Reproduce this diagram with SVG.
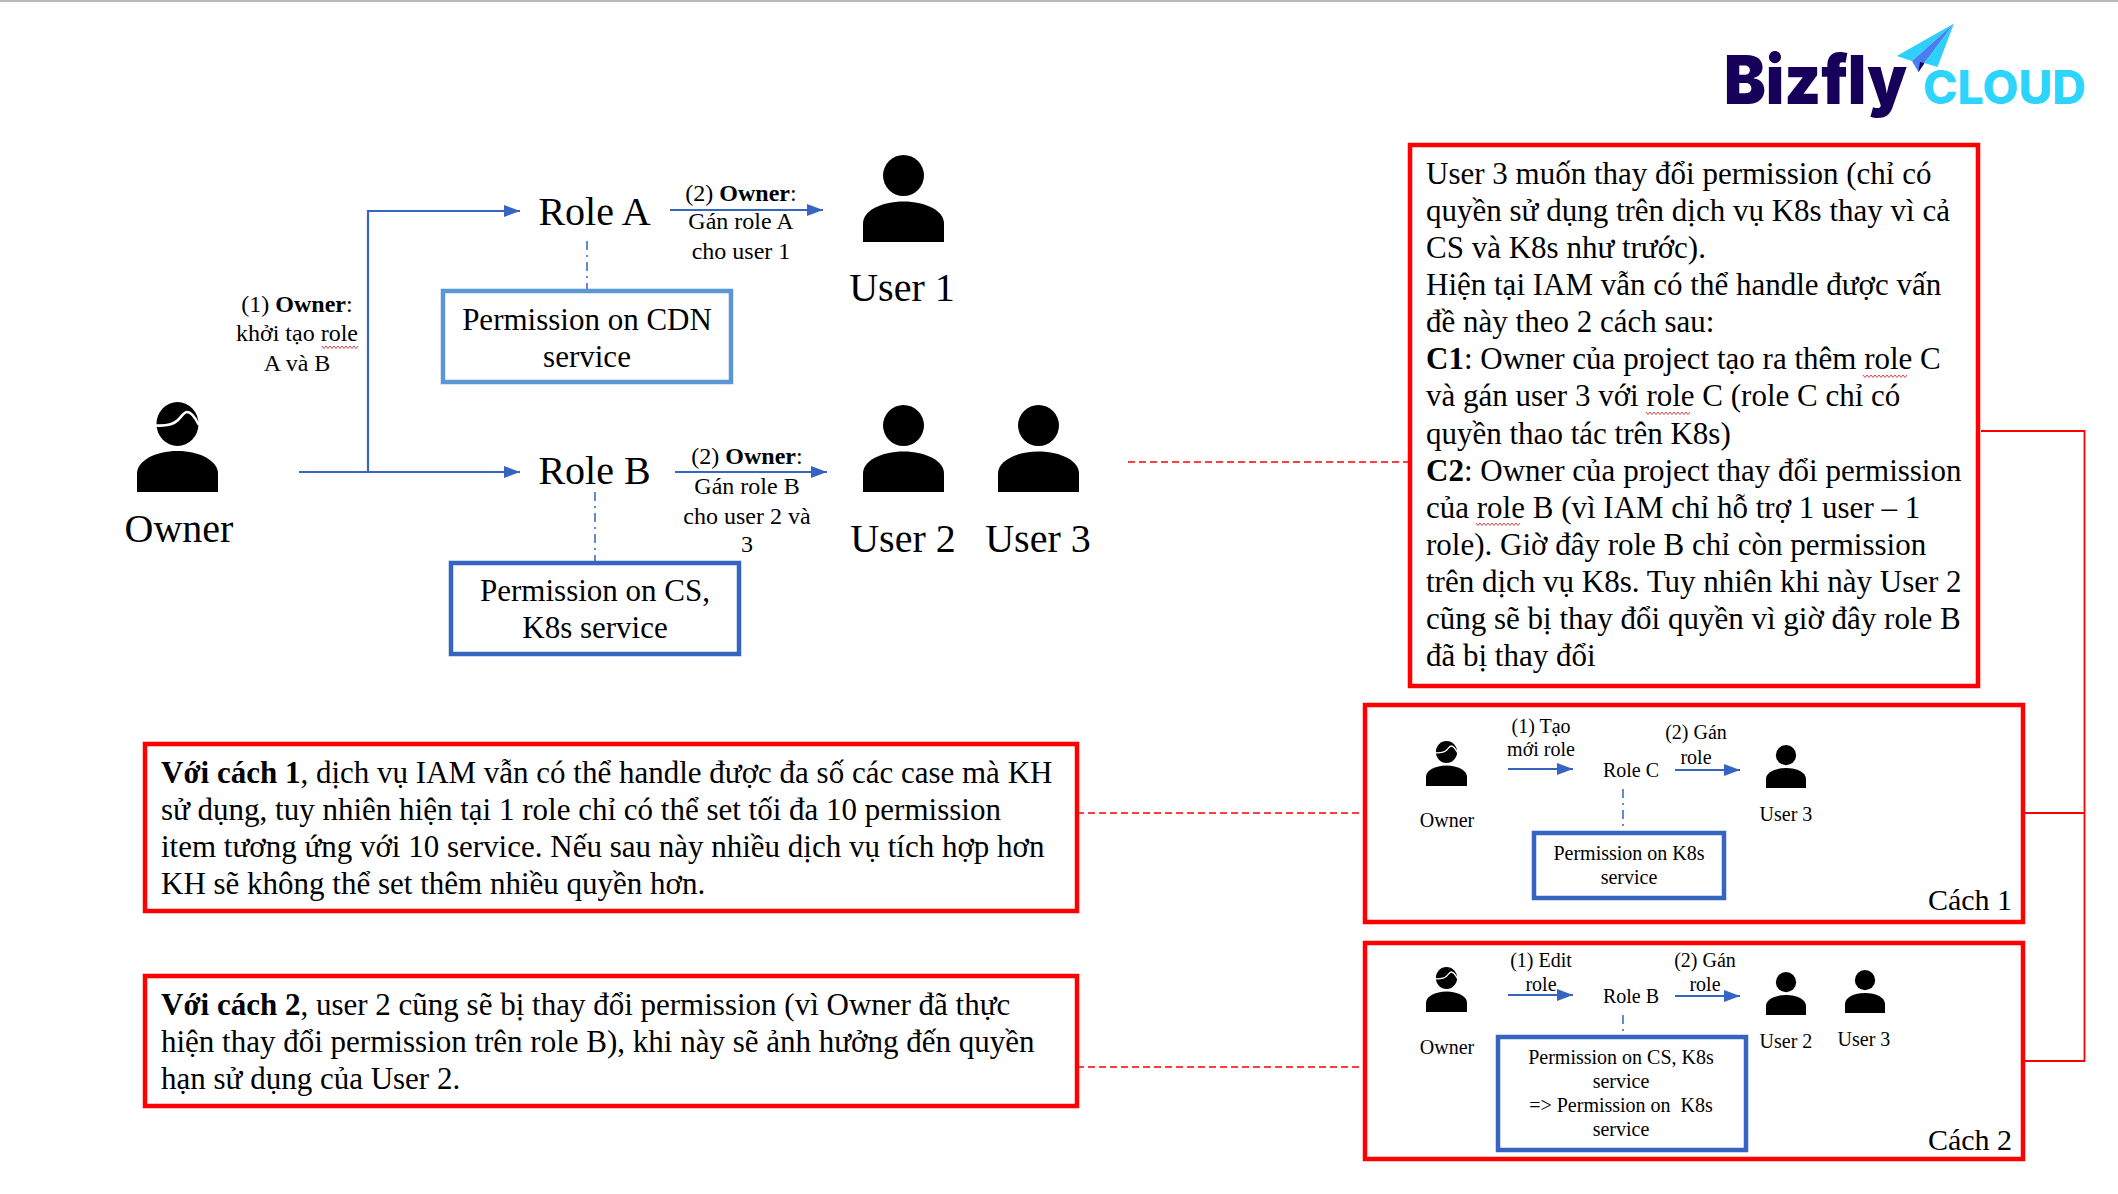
<svg xmlns="http://www.w3.org/2000/svg" width="2118" height="1194" viewBox="0 0 2118 1194">
<style>
text{font-family:"Liberation Serif","Times New Roman",serif;fill:#000}
.m{text-anchor:middle}
.t40{font-size:40px}.t31{font-size:31px}.t30{font-size:30px}.t24{font-size:24px}.t20{font-size:20px}
.b{font-weight:700}
.red{fill:#fff;stroke:#f00;stroke-width:4.500}
.blue{fill:#fff;stroke:#3564c1;stroke-width:4.500}
.lblue{fill:#fff;stroke:#5b97d5;stroke-width:4.500}
.arr{fill:none;stroke:#3564c1;stroke-width:2.200;marker-end:url(#ah)}
.dd{fill:none;stroke:#3564c1;stroke-width:1.500;stroke-dasharray:9 5 2 5}
.rd{fill:none;stroke:#f00;stroke-width:1.600;stroke-dasharray:7 4}
.rs{fill:none;stroke:#f00;stroke-width:1.800}
.sq{fill:none;stroke:#e04040;stroke-width:1}
</style>
<defs>
<marker id="ah" markerUnits="userSpaceOnUse" markerWidth="16" markerHeight="12" refX="16" refY="6" orient="auto"><path d="M0 0L16 6L0 12Z" fill="#3564c1"/></marker>
<symbol id="person" viewBox="0 0 81 87" preserveAspectRatio="none"><ellipse cx="40.500" cy="20.500" rx="20.500" ry="20.500"/><path d="M0 87V68.500C0 56 18 46.500 40.500 46.500C63 46.500 81 56 81 68.500V87Z"/></symbol>
<symbol id="owner" viewBox="0 0 81 90" preserveAspectRatio="none"><ellipse cx="40.500" cy="22" rx="21" ry="22"/><path d="M19 23.500C28 24 36 23 41 18C45 14 47 10 50 10C54 10 59 17 62 23" fill="none" stroke="#fff" stroke-width="2.600"/><path d="M0 90V71.500C0 59 18 49 40.500 49C63 49 81 59 81 71.500V90Z"/></symbol>
<path id="sq48" d="M0 0l2 2.500l2-2.500l2 2.500l2-2.500l2 2.500l2-2.500l2 2.500l2-2.500l2 2.500l2-2.500l2 2.500l2-2.500l2 2.500l2-2.500l2 2.500l2-2.500l2 2.500l2-2.500l2 2.500l2-2.500l2 2.500l2-2.500"/>
<path id="sq38" d="M0 0l2 2.500l2-2.500l2 2.500l2-2.500l2 2.500l2-2.500l2 2.500l2-2.500l2 2.500l2-2.500l2 2.500l2-2.500l2 2.500l2-2.500l2 2.500l2-2.500l2 2.500l2-2.500"/>
</defs>
<rect width="2118" height="1194" fill="#fff"/>
<rect width="2118" height="2" fill="#b5bab8"/>

<g id="connectors">
<path class="arr" d="M368 472V211H520"/>
<path class="arr" d="M299 472H520"/>
<path class="arr" d="M670 210H823"/>
<path class="arr" d="M675 472H827"/>
<path class="dd" d="M587 241V291"/>
<path class="dd" d="M595 492V563"/>
<path class="rd" d="M1128 462H1408"/>
<path class="rd" d="M1077 813H1364"/>
<path class="rd" d="M1077 1067H1364"/>
<path class="rs" d="M1981 431H2084.500V1061H2022"/>
<path class="rs" d="M2023 813H2084.500"/>
</g>

<g id="owner-main"><use href="#owner" x="137" y="402" width="81" height="90"/><text class="t40 m" x="179" y="542">Owner</text></g>
<g id="user-1"><use href="#person" x="863" y="155" width="81" height="87"/><text class="t40 m" x="902" y="301">User 1</text></g>
<g id="user-2"><use href="#person" x="863" y="405" width="81" height="87"/><text class="t40 m" x="903" y="552">User 2</text></g>
<g id="user-3"><use href="#person" x="998" y="405" width="81" height="87"/><text class="t40 m" x="1038" y="552">User 3</text></g>
<g id="role-a"><text class="t40 m" x="594.500" y="225">Role A</text></g>
<g id="role-b"><text class="t40 m" x="594.500" y="484">Role B</text></g>
<g id="label-1"><text class="t24 m" x="297" y="312">(1) <tspan class="b">Owner</tspan>:</text><text class="t24 m" x="297" y="341">khởi tạo role</text><text class="t24 m" x="297" y="371">A và B</text><use href="#sq38" class="sq" x="322" y="346"/></g>
<g id="label-2a"><text class="t24 m" x="741" y="201">(2) <tspan class="b">Owner</tspan>:</text><text class="t24 m" x="741" y="229">Gán role A</text><text class="t24 m" x="741" y="259">cho user 1</text></g>
<g id="label-2b"><text class="t24 m" x="747" y="464">(2) <tspan class="b">Owner</tspan>:</text><text class="t24 m" x="747" y="494">Gán role B</text><text class="t24 m" x="747" y="524">cho user 2 và</text><text class="t24 m" x="747" y="552">3</text></g>
<g id="perm-cdn"><rect class="lblue" x="443" y="291" width="288" height="91"/><text class="t31 m" x="587" y="330">Permission on CDN</text><text class="t31 m" x="587" y="367">service</text></g>
<g id="perm-cs"><rect class="blue" x="451" y="563" width="288" height="91"/><text class="t31 m" x="595" y="601">Permission on CS,</text><text class="t31 m" x="595" y="638">K8s service</text></g>

<g id="explain">
<rect class="red" x="1410" y="145" width="568" height="541"/>
<g class="t31">
<text x="1426" y="184">User 3 muốn thay đổi permission (chỉ có</text>
<text x="1426" y="221">quyền sử dụng trên dịch vụ K8s thay vì cả</text>
<text x="1426" y="258">CS và K8s như trước).</text>
<text x="1426" y="295">Hiện tại IAM vẫn có thể handle được vấn</text>
<text x="1426" y="332">đề này theo 2 cách sau:</text>
<text x="1426" y="369"><tspan class="b">C1</tspan>: Owner của project tạo ra thêm role C</text>
<text x="1426" y="406">và gán user 3 với role C (role C chỉ có</text>
<text x="1426" y="444">quyền thao tác trên K8s)</text>
<text x="1426" y="481"><tspan class="b">C2</tspan>: Owner của project thay đổi permission</text>
<text x="1426" y="518">của role B (vì IAM chỉ hỗ trợ 1 user – 1</text>
<text x="1426" y="555">role). Giờ đây role B chỉ còn permission</text>
<text x="1426" y="592">trên dịch vụ K8s. Tuy nhiên khi này User 2</text>
<text x="1426" y="629">cũng sẽ bị thay đổi quyền vì giờ đây role B</text>
<text x="1426" y="666">đã bị thay đổi</text>
</g>
<use href="#sq48" class="sq" x="1863" y="375"/><use href="#sq48" class="sq" x="1646" y="412"/><use href="#sq48" class="sq" x="1476" y="523"/>
</g>

<g id="note-1">
<rect class="red" x="145" y="744" width="932" height="167"/>
<g class="t31">
<text x="161" y="783"><tspan class="b">Với cách 1</tspan>, dịch vụ IAM vẫn có thể handle được đa số các case mà KH</text>
<text x="161" y="820">sử dụng, tuy nhiên hiện tại 1 role chỉ có thể set tối đa 10 permission</text>
<text x="161" y="857">item tương ứng với 10 service. Nếu sau này nhiều dịch vụ tích hợp hơn</text>
<text x="161" y="894">KH sẽ không thể set thêm nhiều quyền hơn.</text>
</g>
</g>
<g id="note-2">
<rect class="red" x="145" y="976" width="932" height="130"/>
<g class="t31">
<text x="161" y="1015"><tspan class="b">Với cách 2</tspan>, user 2 cũng sẽ bị thay đổi permission (vì Owner đã thực</text>
<text x="161" y="1052">hiện thay đổi permission trên role B), khi này sẽ ảnh hưởng đến quyền</text>
<text x="161" y="1089">hạn sử dụng của User 2.</text>
</g>
</g>

<g id="cach-1">
<rect class="red" x="1365" y="705" width="658" height="217"/>
<path class="arr" d="M1508 769H1573"/>
<path class="arr" d="M1675 770H1740"/>
<path class="dd" d="M1623 789V832"/>
<use href="#owner" x="1426" y="741" width="41" height="45"/>
<use href="#person" x="1766" y="745" width="40" height="43"/>
<text class="t20 m" x="1447" y="827">Owner</text>
<text class="t20 m" x="1786" y="821">User 3</text>
<text class="t20 m" x="1631" y="777">Role C</text>
<text class="t20 m" x="1541" y="733">(1) Tạo</text><text class="t20 m" x="1541" y="756">mới role</text>
<text class="t20 m" x="1696" y="739">(2) Gán</text><text class="t20 m" x="1696" y="764">role</text>
<rect class="blue" x="1534" y="833" width="190" height="65"/>
<text class="t20 m" x="1629" y="860">Permission on K8s</text><text class="t20 m" x="1629" y="884">service</text>
<text class="t30 m" x="1970" y="910">Cách 1</text>
</g>
<g id="cach-2">
<rect class="red" x="1365" y="943" width="658" height="216"/>
<path class="arr" d="M1508 995H1573"/>
<path class="arr" d="M1675 996H1740"/>
<path class="dd" d="M1623 1015V1036"/>
<use href="#owner" x="1426" y="967" width="41" height="45"/>
<use href="#person" x="1766" y="972" width="40" height="43"/>
<use href="#person" x="1845" y="970" width="40" height="43"/>
<text class="t20 m" x="1447" y="1054">Owner</text>
<text class="t20 m" x="1786" y="1048">User 2</text>
<text class="t20 m" x="1864" y="1046">User 3</text>
<text class="t20 m" x="1631" y="1003">Role B</text>
<text class="t20 m" x="1541" y="967">(1) Edit</text><text class="t20 m" x="1541" y="991">role</text>
<text class="t20 m" x="1705" y="967">(2) Gán</text><text class="t20 m" x="1705" y="991">role</text>
<rect class="blue" x="1498" y="1037" width="248" height="113"/>
<text class="t20 m" x="1621" y="1064">Permission on CS, K8s</text><text class="t20 m" x="1621" y="1088">service</text><text class="t20 m" x="1621" y="1112" xml:space="preserve">=&gt; Permission on  K8s</text><text class="t20 m" x="1621" y="1136">service</text>
<text class="t30 m" x="1970" y="1150">Cách 2</text>
</g>

<g id="logo">
<text x="1724" y="104" textLength="183" lengthAdjust="spacingAndGlyphs" style="font-family:Inter,'Liberation Sans',sans-serif;font-weight:900;font-size:68px;fill:#17005a">Bizfly</text>
<text x="1923" y="104" textLength="163" lengthAdjust="spacingAndGlyphs" style="font-family:Inter,'Liberation Sans',sans-serif;font-weight:800;font-size:46px;fill:#2dd4fb">CLOUD</text>
<path d="M1954 23.500L1896.700 56L1912 61Z" fill="#2dcffb"/>
<path d="M1954 23.500L1912 61L1918.500 72L1924.500 63Z" fill="#4a7df0"/>
<path d="M1954 23.500L1924.500 63L1937.500 67Z" fill="#2dcffb"/>
<path d="M1918.500 72L1924.500 63L1920 62Z" fill="#17005a"/>
</g>
</svg>
